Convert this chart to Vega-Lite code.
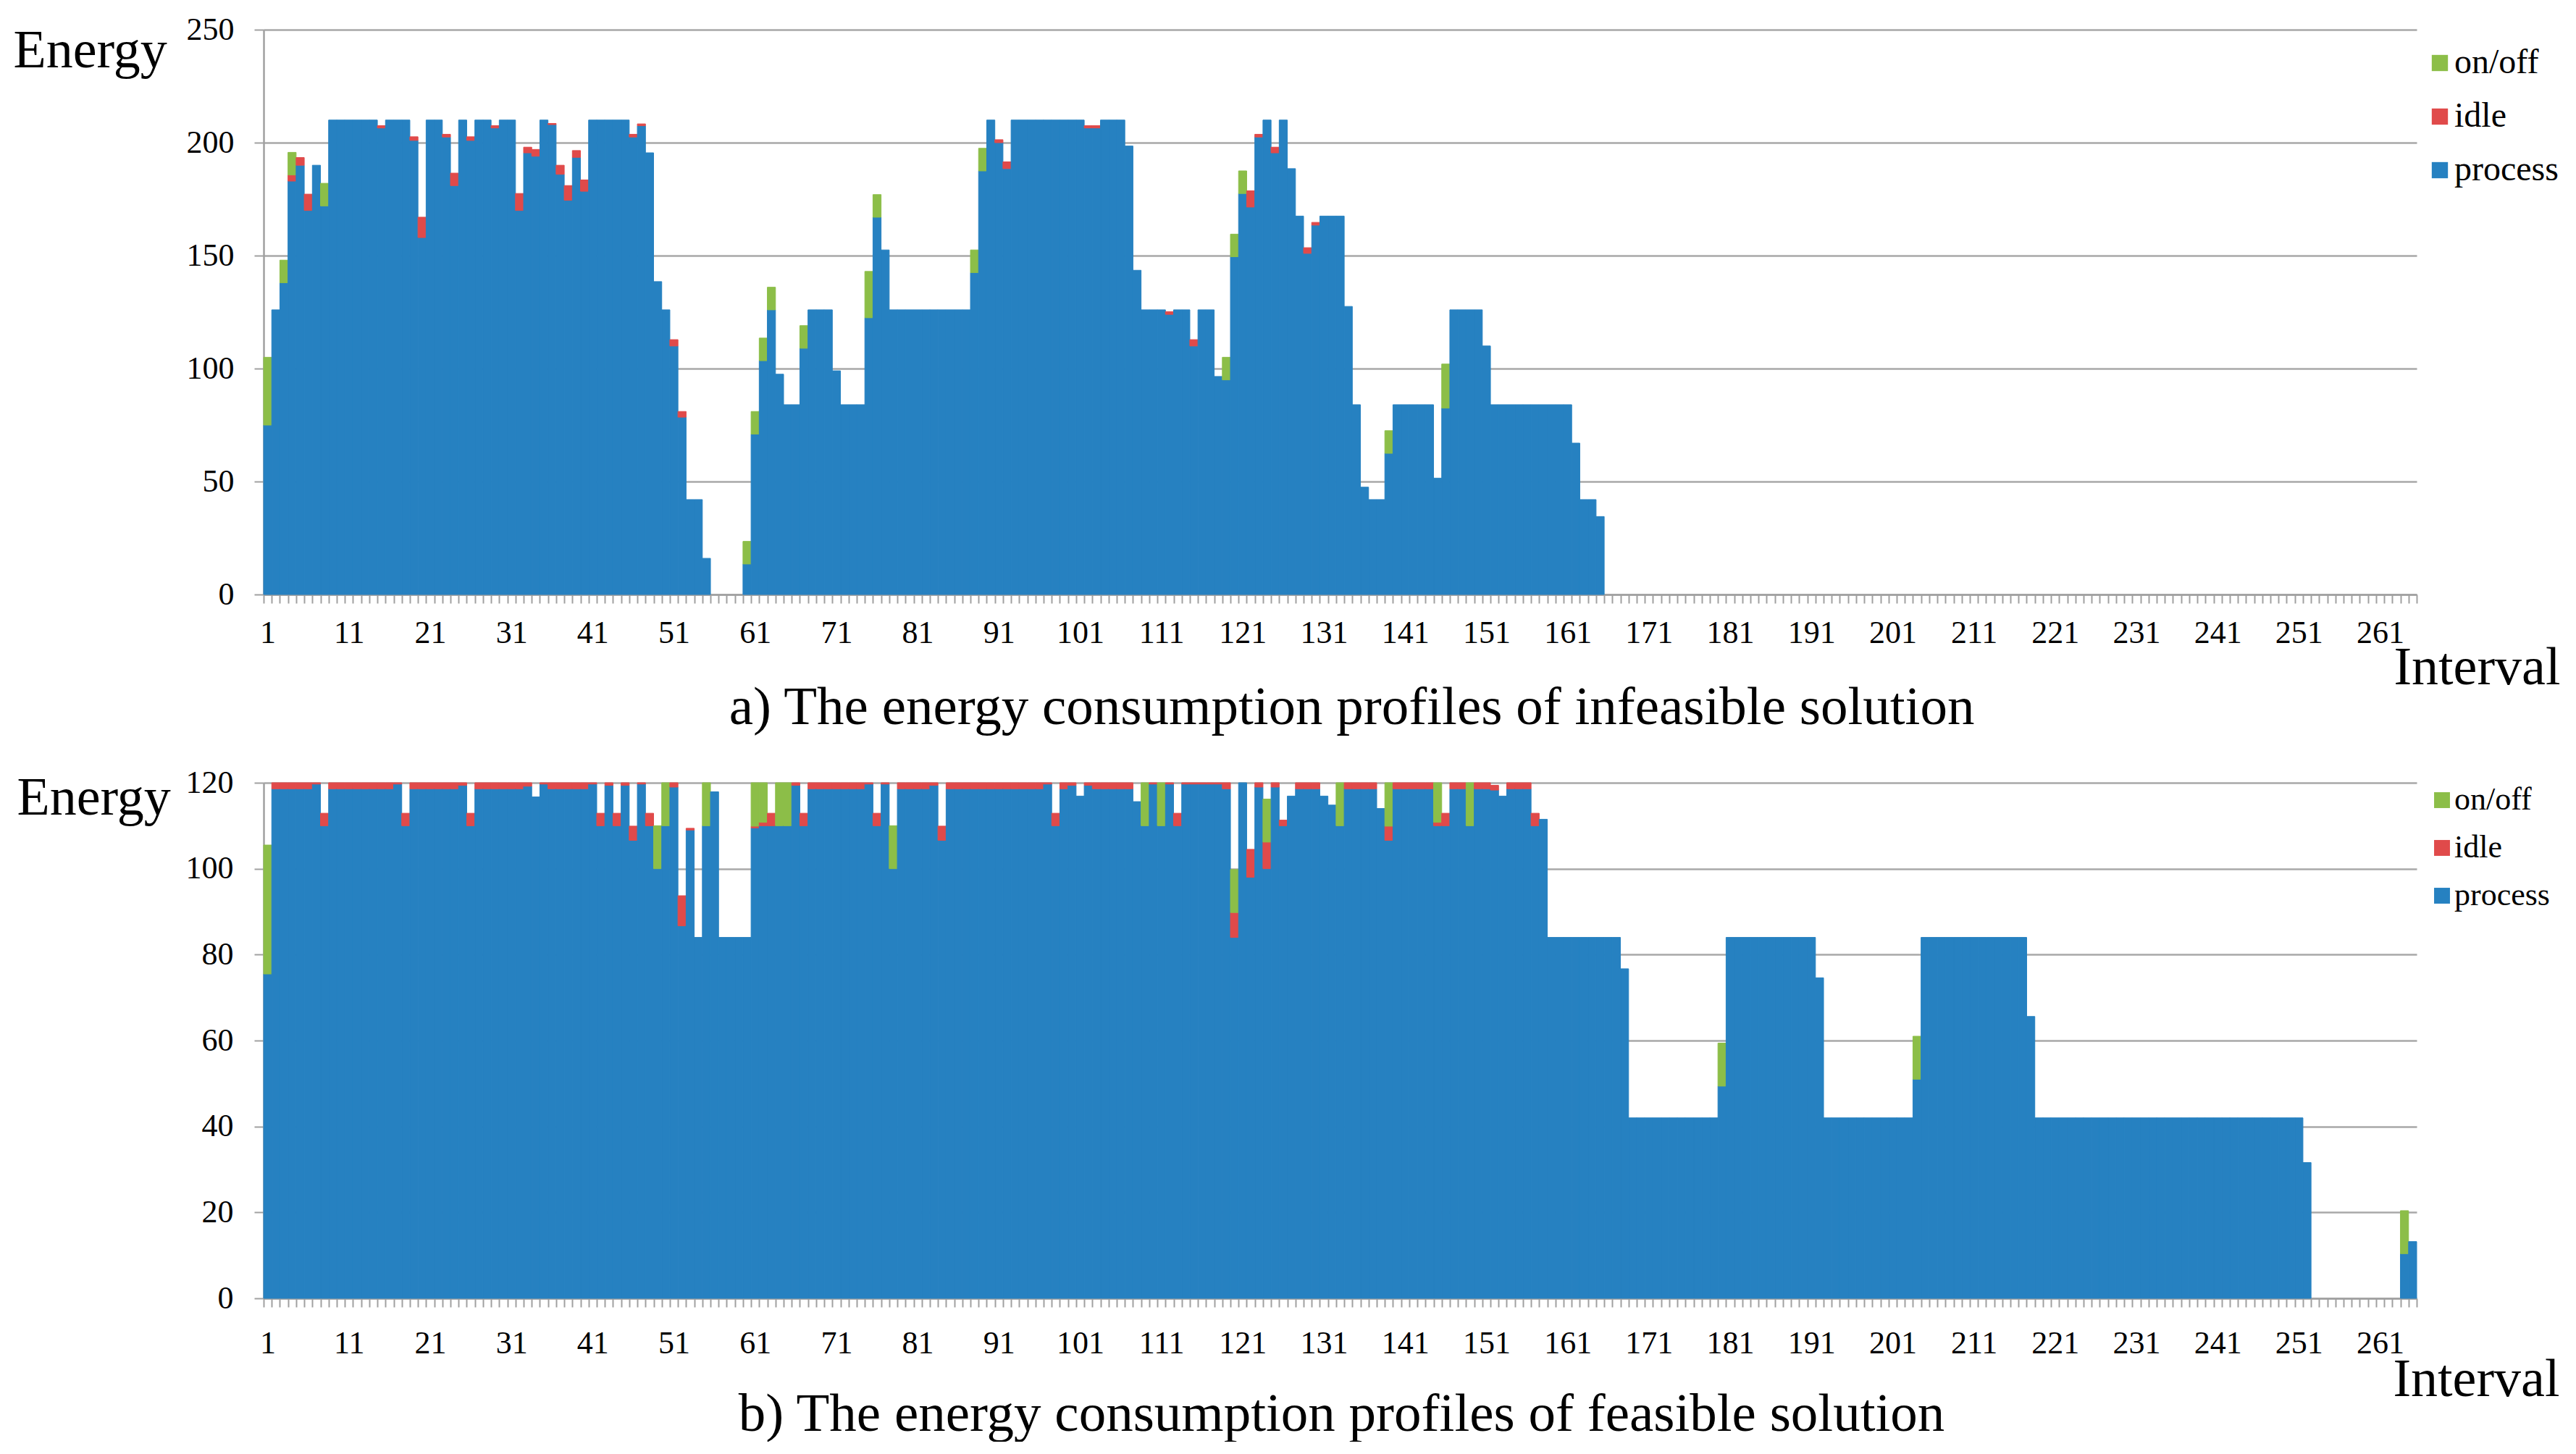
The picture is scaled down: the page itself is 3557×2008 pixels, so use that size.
{
"$schema":"https://vega.github.io/schema/vega-lite/v6.json",
"padding":{"left":18,"top":19,"right":0,"bottom":0},
"bounds":"flush",
"spacing":260,
"config":{"view":{"stroke":null},"font":"Liberation Serif","axis":{"labelFont":"Liberation Serif","titleFont":"Liberation Serif","labelColor":"black","titleColor":"black","titleFontWeight":"normal","domainColor":"#a0a0a0","tickColor":"#a0a0a0","gridColor":"#a8a8a8"}},
"resolve":{"scale":{"x":"independent","y":"independent","color":"independent","stroke":"independent"},"legend":{"color":"independent"},"axis":{"x":"independent","y":"independent"}},
"datasets":{
"a":[
{"i":1,"process":75,"idle":0,"On_off":30},{"i":2,"process":126,"idle":0,"On_off":0},{"i":3,"process":138,"idle":0,"On_off":10},{"i":4,"process":183,"idle":2.7,"On_off":10},{"i":5,"process":190,"idle":3.4,"On_off":0},{"i":6,"process":170,"idle":7.2,"On_off":0},{"i":7,"process":190,"idle":0,"On_off":0},{"i":8,"process":172,"idle":0,"On_off":10},{"i":9,"process":210,"idle":0,"On_off":0},{"i":10,"process":210,"idle":0,"On_off":0},
{"i":11,"process":210,"idle":0,"On_off":0},{"i":12,"process":210,"idle":0,"On_off":0},{"i":13,"process":210,"idle":0,"On_off":0},{"i":14,"process":210,"idle":0,"On_off":0},{"i":15,"process":206.5,"idle":1,"On_off":0},{"i":16,"process":210,"idle":0,"On_off":0},{"i":17,"process":210,"idle":0,"On_off":0},{"i":18,"process":210,"idle":0,"On_off":0},{"i":19,"process":201,"idle":1.6,"On_off":0},{"i":20,"process":158,"idle":9,"On_off":0},
{"i":21,"process":210,"idle":0,"On_off":0},{"i":22,"process":210,"idle":0,"On_off":0},{"i":23,"process":202.5,"idle":1.2,"On_off":0},{"i":24,"process":181,"idle":5.5,"On_off":0},{"i":25,"process":210,"idle":0,"On_off":0},{"i":26,"process":201,"idle":1.6,"On_off":0},{"i":27,"process":210,"idle":0,"On_off":0},{"i":28,"process":210,"idle":0,"On_off":0},{"i":29,"process":206.5,"idle":1,"On_off":0},{"i":30,"process":210,"idle":0,"On_off":0},
{"i":31,"process":210,"idle":0,"On_off":0},{"i":32,"process":170,"idle":7.5,"On_off":0},{"i":33,"process":195.5,"idle":2.5,"On_off":0},{"i":34,"process":194,"idle":3,"On_off":0},{"i":35,"process":210,"idle":0,"On_off":0},{"i":36,"process":208,"idle":0.5,"On_off":0},{"i":37,"process":186,"idle":4,"On_off":0},{"i":38,"process":174.5,"idle":6.5,"On_off":0},{"i":39,"process":193.5,"idle":3,"On_off":0},{"i":40,"process":178.5,"idle":5,"On_off":0},
{"i":41,"process":210,"idle":0,"On_off":0},{"i":42,"process":210,"idle":0,"On_off":0},{"i":43,"process":210,"idle":0,"On_off":0},{"i":44,"process":210,"idle":0,"On_off":0},{"i":45,"process":210,"idle":0,"On_off":0},{"i":46,"process":202.5,"idle":1.2,"On_off":0},{"i":47,"process":207.5,"idle":0.8,"On_off":0},{"i":48,"process":195.5,"idle":0,"On_off":0},{"i":49,"process":138.5,"idle":0,"On_off":0},{"i":50,"process":126,"idle":0,"On_off":0},
{"i":51,"process":110,"idle":2.8,"On_off":0},{"i":52,"process":78.5,"idle":2.5,"On_off":0},{"i":53,"process":42,"idle":0,"On_off":0},{"i":54,"process":42,"idle":0,"On_off":0},{"i":55,"process":16,"idle":0,"On_off":0},
{"i":60,"process":13.5,"idle":0,"On_off":10},{"i":61,"process":71,"idle":0,"On_off":10},{"i":62,"process":103.5,"idle":0,"On_off":10},{"i":63,"process":126,"idle":0,"On_off":10},{"i":64,"process":97.5,"idle":0,"On_off":0},{"i":65,"process":84,"idle":0,"On_off":0},{"i":66,"process":84,"idle":0,"On_off":0},{"i":67,"process":109,"idle":0,"On_off":10},{"i":68,"process":126,"idle":0,"On_off":0},{"i":69,"process":126,"idle":0,"On_off":0},{"i":70,"process":126,"idle":0,"On_off":0},
{"i":71,"process":99,"idle":0,"On_off":0},{"i":72,"process":84,"idle":0,"On_off":0},{"i":73,"process":84,"idle":0,"On_off":0},{"i":74,"process":84,"idle":0,"On_off":0},{"i":75,"process":122.5,"idle":0,"On_off":20.5},{"i":76,"process":167,"idle":0,"On_off":10},{"i":77,"process":152.5,"idle":0,"On_off":0},{"i":78,"process":126,"idle":0,"On_off":0},{"i":79,"process":126,"idle":0,"On_off":0},{"i":80,"process":126,"idle":0,"On_off":0},
{"i":81,"process":126,"idle":0,"On_off":0},{"i":82,"process":126,"idle":0,"On_off":0},{"i":83,"process":126,"idle":0,"On_off":0},{"i":84,"process":126,"idle":0,"On_off":0},{"i":85,"process":126,"idle":0,"On_off":0},{"i":86,"process":126,"idle":0,"On_off":0},{"i":87,"process":126,"idle":0,"On_off":0},{"i":88,"process":142.5,"idle":0,"On_off":10},{"i":89,"process":187.5,"idle":0,"On_off":10},{"i":90,"process":210,"idle":0,"On_off":0},
{"i":91,"process":200,"idle":1.3,"On_off":0},{"i":92,"process":188.5,"idle":3,"On_off":0},{"i":93,"process":210,"idle":0,"On_off":0},{"i":94,"process":210,"idle":0,"On_off":0},{"i":95,"process":210,"idle":0,"On_off":0},{"i":96,"process":210,"idle":0,"On_off":0},{"i":97,"process":210,"idle":0,"On_off":0},{"i":98,"process":210,"idle":0,"On_off":0},{"i":99,"process":210,"idle":0,"On_off":0},{"i":100,"process":210,"idle":0,"On_off":0},
{"i":101,"process":210,"idle":0,"On_off":0},{"i":102,"process":206.5,"idle":1,"On_off":0},{"i":103,"process":206.5,"idle":1,"On_off":0},{"i":104,"process":210,"idle":0,"On_off":0},{"i":105,"process":210,"idle":0,"On_off":0},{"i":106,"process":210,"idle":0,"On_off":0},{"i":107,"process":198.5,"idle":0,"On_off":0},{"i":108,"process":143.5,"idle":0,"On_off":0},{"i":109,"process":126,"idle":0,"On_off":0},{"i":110,"process":126,"idle":0,"On_off":0},
{"i":111,"process":126,"idle":0,"On_off":0},{"i":112,"process":124,"idle":1.2,"On_off":0},{"i":113,"process":126,"idle":0,"On_off":0},{"i":114,"process":126,"idle":0,"On_off":0},{"i":115,"process":110,"idle":2.8,"On_off":0},{"i":116,"process":126,"idle":0,"On_off":0},{"i":117,"process":126,"idle":0,"On_off":0},{"i":118,"process":96.5,"idle":0,"On_off":0},{"i":119,"process":95,"idle":0,"On_off":10},{"i":120,"process":149.5,"idle":0,"On_off":10},
{"i":121,"process":177.5,"idle":0,"On_off":10},{"i":122,"process":171.5,"idle":7.2,"On_off":0},{"i":123,"process":202.5,"idle":1.2,"On_off":0},{"i":124,"process":210,"idle":0,"On_off":0},{"i":125,"process":195.5,"idle":2.5,"On_off":0},{"i":126,"process":210,"idle":0,"On_off":0},{"i":127,"process":188.5,"idle":0,"On_off":0},{"i":128,"process":167.5,"idle":0,"On_off":0},{"i":129,"process":151,"idle":2.5,"On_off":0},{"i":130,"process":163.5,"idle":1.2,"On_off":0},
{"i":131,"process":167.5,"idle":0,"On_off":0},{"i":132,"process":167.5,"idle":0,"On_off":0},{"i":133,"process":167.5,"idle":0,"On_off":0},{"i":134,"process":127.5,"idle":0,"On_off":0},{"i":135,"process":84,"idle":0,"On_off":0},{"i":136,"process":47.5,"idle":0,"On_off":0},{"i":137,"process":42,"idle":0,"On_off":0},{"i":138,"process":42,"idle":0,"On_off":0},{"i":139,"process":62.5,"idle":0,"On_off":10},{"i":140,"process":84,"idle":0,"On_off":0},
{"i":141,"process":84,"idle":0,"On_off":0},{"i":142,"process":84,"idle":0,"On_off":0},{"i":143,"process":84,"idle":0,"On_off":0},{"i":144,"process":84,"idle":0,"On_off":0},{"i":145,"process":51.5,"idle":0,"On_off":0},{"i":146,"process":82.5,"idle":0,"On_off":19.5},{"i":147,"process":126,"idle":0,"On_off":0},{"i":148,"process":126,"idle":0,"On_off":0},{"i":149,"process":126,"idle":0,"On_off":0},{"i":150,"process":126,"idle":0,"On_off":0},
{"i":151,"process":110,"idle":0,"On_off":0},{"i":152,"process":84,"idle":0,"On_off":0},{"i":153,"process":84,"idle":0,"On_off":0},{"i":154,"process":84,"idle":0,"On_off":0},{"i":155,"process":84,"idle":0,"On_off":0},{"i":156,"process":84,"idle":0,"On_off":0},{"i":157,"process":84,"idle":0,"On_off":0},{"i":158,"process":84,"idle":0,"On_off":0},{"i":159,"process":84,"idle":0,"On_off":0},{"i":160,"process":84,"idle":0,"On_off":0},
{"i":161,"process":84,"idle":0,"On_off":0},{"i":162,"process":67,"idle":0,"On_off":0},{"i":163,"process":42,"idle":0,"On_off":0},{"i":164,"process":42,"idle":0,"On_off":0},{"i":165,"process":34.5,"idle":0,"On_off":0}
],
"b":[
{"i":1,"process":75.5,"idle":0,"On_off":30},{"i":2,"process":118.6,"idle":1.4,"On_off":0},{"i":3,"process":118.6,"idle":1.4,"On_off":0},{"i":4,"process":118.6,"idle":1.4,"On_off":0},{"i":5,"process":118.6,"idle":1.4,"On_off":0},{"i":6,"process":118.6,"idle":1.4,"On_off":0},{"i":7,"process":119.7,"idle":0.3,"On_off":0},{"i":8,"process":110,"idle":2.9,"On_off":0},{"i":9,"process":118.6,"idle":1.4,"On_off":0},{"i":10,"process":118.6,"idle":1.4,"On_off":0},
{"i":11,"process":118.6,"idle":1.4,"On_off":0},{"i":12,"process":118.6,"idle":1.4,"On_off":0},{"i":13,"process":118.6,"idle":1.4,"On_off":0},{"i":14,"process":118.6,"idle":1.4,"On_off":0},{"i":15,"process":118.6,"idle":1.4,"On_off":0},{"i":16,"process":118.6,"idle":1.4,"On_off":0},{"i":17,"process":119.7,"idle":0.3,"On_off":0},{"i":18,"process":110,"idle":2.9,"On_off":0},{"i":19,"process":118.6,"idle":1.4,"On_off":0},{"i":20,"process":118.6,"idle":1.4,"On_off":0},
{"i":21,"process":118.6,"idle":1.4,"On_off":0},{"i":22,"process":118.6,"idle":1.4,"On_off":0},{"i":23,"process":118.6,"idle":1.4,"On_off":0},{"i":24,"process":118.6,"idle":1.4,"On_off":0},{"i":25,"process":119.4,"idle":0.6,"On_off":0},{"i":26,"process":110,"idle":2.9,"On_off":0},{"i":27,"process":118.6,"idle":1.4,"On_off":0},{"i":28,"process":118.6,"idle":1.4,"On_off":0},{"i":29,"process":118.6,"idle":1.4,"On_off":0},{"i":30,"process":118.6,"idle":1.4,"On_off":0},
{"i":31,"process":118.6,"idle":1.4,"On_off":0},{"i":32,"process":118.6,"idle":1.4,"On_off":0},{"i":33,"process":119.2,"idle":0.8,"On_off":0},{"i":34,"process":116.7,"idle":0,"On_off":0},{"i":35,"process":119.7,"idle":0.3,"On_off":0},{"i":36,"process":118.6,"idle":1.4,"On_off":0},{"i":37,"process":118.6,"idle":1.4,"On_off":0},{"i":38,"process":118.6,"idle":1.4,"On_off":0},{"i":39,"process":118.6,"idle":1.4,"On_off":0},{"i":40,"process":118.6,"idle":1.4,"On_off":0},
{"i":41,"process":119.7,"idle":0.3,"On_off":0},{"i":42,"process":110,"idle":2.9,"On_off":0},{"i":43,"process":119.4,"idle":0.6,"On_off":0},{"i":44,"process":110,"idle":2.9,"On_off":0},{"i":45,"process":119.4,"idle":0.6,"On_off":0},{"i":46,"process":106.6,"idle":3.3,"On_off":0},{"i":47,"process":119.7,"idle":0.3,"On_off":0},{"i":48,"process":110,"idle":2.9,"On_off":0},{"i":49,"process":100,"idle":0,"On_off":10},{"i":50,"process":110,"idle":0,"On_off":10},
{"i":51,"process":119,"idle":1,"On_off":0},{"i":52,"process":86.7,"idle":7,"On_off":0},{"i":53,"process":109,"idle":0.4,"On_off":0},{"i":54,"process":84,"idle":0,"On_off":0},{"i":55,"process":110,"idle":0,"On_off":10},{"i":56,"process":117.9,"idle":0,"On_off":0},{"i":57,"process":84,"idle":0,"On_off":0},{"i":58,"process":84,"idle":0,"On_off":0},{"i":59,"process":84,"idle":0,"On_off":0},{"i":60,"process":84,"idle":0,"On_off":0},
{"i":61,"process":109.5,"idle":0.4,"On_off":10.1},{"i":62,"process":110,"idle":0.8,"On_off":9.2},{"i":63,"process":110,"idle":2.9,"On_off":0},{"i":64,"process":110,"idle":0,"On_off":10},{"i":65,"process":110,"idle":0,"On_off":10},{"i":66,"process":119.4,"idle":0.6,"On_off":0},{"i":67,"process":110,"idle":2.9,"On_off":0},{"i":68,"process":118.6,"idle":1.4,"On_off":0},{"i":69,"process":118.6,"idle":1.4,"On_off":0},{"i":70,"process":118.6,"idle":1.4,"On_off":0},
{"i":71,"process":118.6,"idle":1.4,"On_off":0},{"i":72,"process":118.6,"idle":1.4,"On_off":0},{"i":73,"process":118.6,"idle":1.4,"On_off":0},{"i":74,"process":118.6,"idle":1.4,"On_off":0},{"i":75,"process":119.7,"idle":0.3,"On_off":0},{"i":76,"process":110,"idle":2.9,"On_off":0},{"i":77,"process":119.7,"idle":0.3,"On_off":0},{"i":78,"process":100,"idle":0,"On_off":10},{"i":79,"process":118.6,"idle":1.4,"On_off":0},{"i":80,"process":118.6,"idle":1.4,"On_off":0},
{"i":81,"process":118.6,"idle":1.4,"On_off":0},{"i":82,"process":118.6,"idle":1.4,"On_off":0},{"i":83,"process":119.4,"idle":0.6,"On_off":0},{"i":84,"process":106.6,"idle":3.3,"On_off":0},{"i":85,"process":118.6,"idle":1.4,"On_off":0},{"i":86,"process":118.6,"idle":1.4,"On_off":0},{"i":87,"process":118.6,"idle":1.4,"On_off":0},{"i":88,"process":118.6,"idle":1.4,"On_off":0},{"i":89,"process":118.6,"idle":1.4,"On_off":0},{"i":90,"process":118.6,"idle":1.4,"On_off":0},
{"i":91,"process":118.6,"idle":1.4,"On_off":0},{"i":92,"process":118.6,"idle":1.4,"On_off":0},{"i":93,"process":118.6,"idle":1.4,"On_off":0},{"i":94,"process":118.6,"idle":1.4,"On_off":0},{"i":95,"process":118.6,"idle":1.4,"On_off":0},{"i":96,"process":118.6,"idle":1.4,"On_off":0},{"i":97,"process":119.7,"idle":0.3,"On_off":0},{"i":98,"process":110,"idle":2.9,"On_off":0},{"i":99,"process":118.6,"idle":1.4,"On_off":0},{"i":100,"process":119.4,"idle":0.6,"On_off":0},
{"i":101,"process":116.9,"idle":0,"On_off":0},{"i":102,"process":119.4,"idle":0.6,"On_off":0},{"i":103,"process":118.6,"idle":1.4,"On_off":0},{"i":104,"process":118.6,"idle":1.4,"On_off":0},{"i":105,"process":118.6,"idle":1.4,"On_off":0},{"i":106,"process":118.6,"idle":1.4,"On_off":0},{"i":107,"process":118.6,"idle":1.4,"On_off":0},{"i":108,"process":115.6,"idle":0,"On_off":0},{"i":109,"process":110,"idle":0,"On_off":10},{"i":110,"process":119.7,"idle":0.3,"On_off":0},
{"i":111,"process":110,"idle":0,"On_off":10},{"i":112,"process":119.7,"idle":0.3,"On_off":0},{"i":113,"process":110,"idle":2.9,"On_off":0},{"i":114,"process":119.7,"idle":0.3,"On_off":0},{"i":115,"process":119.7,"idle":0.3,"On_off":0},{"i":116,"process":119.7,"idle":0.3,"On_off":0},{"i":117,"process":119.7,"idle":0.3,"On_off":0},{"i":118,"process":119.7,"idle":0.3,"On_off":0},{"i":119,"process":118.6,"idle":1.4,"On_off":0},{"i":120,"process":84,"idle":5.8,"On_off":10},
{"i":121,"process":120,"idle":0,"On_off":0},{"i":122,"process":98,"idle":6.5,"On_off":0},{"i":123,"process":119,"idle":1,"On_off":0},{"i":124,"process":100,"idle":6.2,"On_off":10},{"i":125,"process":119,"idle":1,"On_off":0},{"i":126,"process":110,"idle":1.3,"On_off":0},{"i":127,"process":116.9,"idle":0,"On_off":0},{"i":128,"process":118.6,"idle":1.4,"On_off":0},{"i":129,"process":118.6,"idle":1.4,"On_off":0},{"i":130,"process":118.6,"idle":1.4,"On_off":0},
{"i":131,"process":116.9,"idle":0,"On_off":0},{"i":132,"process":114.8,"idle":0,"On_off":0},{"i":133,"process":110,"idle":0,"On_off":10},{"i":134,"process":118.6,"idle":1.4,"On_off":0},{"i":135,"process":118.6,"idle":1.4,"On_off":0},{"i":136,"process":118.6,"idle":1.4,"On_off":0},{"i":137,"process":118.6,"idle":1.4,"On_off":0},{"i":138,"process":114,"idle":0,"On_off":0},{"i":139,"process":106.6,"idle":3.3,"On_off":10.1},{"i":140,"process":118.6,"idle":1.4,"On_off":0},
{"i":141,"process":118.6,"idle":1.4,"On_off":0},{"i":142,"process":118.6,"idle":1.4,"On_off":0},{"i":143,"process":118.6,"idle":1.4,"On_off":0},{"i":144,"process":118.6,"idle":1.4,"On_off":0},{"i":145,"process":110,"idle":0.8,"On_off":9.2},{"i":146,"process":110,"idle":2.9,"On_off":0},{"i":147,"process":118.6,"idle":1.4,"On_off":0},{"i":148,"process":118.6,"idle":1.4,"On_off":0},{"i":149,"process":110,"idle":0,"On_off":10},{"i":150,"process":118.6,"idle":1.4,"On_off":0},
{"i":151,"process":118.6,"idle":1.4,"On_off":0},{"i":152,"process":118.3,"idle":1.1,"On_off":0},{"i":153,"process":116.9,"idle":0,"On_off":0},{"i":154,"process":118.6,"idle":1.4,"On_off":0},{"i":155,"process":118.6,"idle":1.4,"On_off":0},{"i":156,"process":118.6,"idle":1.4,"On_off":0},{"i":157,"process":110,"idle":2.9,"On_off":0},{"i":158,"process":111.5,"idle":0,"On_off":0},{"i":159,"process":84,"idle":0,"On_off":0},{"i":160,"process":84,"idle":0,"On_off":0},
{"i":161,"process":84,"idle":0,"On_off":0},{"i":162,"process":84,"idle":0,"On_off":0},{"i":163,"process":84,"idle":0,"On_off":0},{"i":164,"process":84,"idle":0,"On_off":0},{"i":165,"process":84,"idle":0,"On_off":0},{"i":166,"process":84,"idle":0,"On_off":0},{"i":167,"process":84,"idle":0,"On_off":0},{"i":168,"process":76.7,"idle":0,"On_off":0},{"i":169,"process":42,"idle":0,"On_off":0},{"i":170,"process":42,"idle":0,"On_off":0},
{"i":171,"process":42,"idle":0,"On_off":0},{"i":172,"process":42,"idle":0,"On_off":0},{"i":173,"process":42,"idle":0,"On_off":0},{"i":174,"process":42,"idle":0,"On_off":0},{"i":175,"process":42,"idle":0,"On_off":0},{"i":176,"process":42,"idle":0,"On_off":0},{"i":177,"process":42,"idle":0,"On_off":0},{"i":178,"process":42,"idle":0,"On_off":0},{"i":179,"process":42,"idle":0,"On_off":0},{"i":180,"process":49.4,"idle":0,"On_off":10},
{"i":181,"process":84,"idle":0,"On_off":0},{"i":182,"process":84,"idle":0,"On_off":0},{"i":183,"process":84,"idle":0,"On_off":0},{"i":184,"process":84,"idle":0,"On_off":0},{"i":185,"process":84,"idle":0,"On_off":0},{"i":186,"process":84,"idle":0,"On_off":0},{"i":187,"process":84,"idle":0,"On_off":0},{"i":188,"process":84,"idle":0,"On_off":0},{"i":189,"process":84,"idle":0,"On_off":0},{"i":190,"process":84,"idle":0,"On_off":0},
{"i":191,"process":84,"idle":0,"On_off":0},{"i":192,"process":74.6,"idle":0,"On_off":0},{"i":193,"process":42,"idle":0,"On_off":0},{"i":194,"process":42,"idle":0,"On_off":0},{"i":195,"process":42,"idle":0,"On_off":0},{"i":196,"process":42,"idle":0,"On_off":0},{"i":197,"process":42,"idle":0,"On_off":0},{"i":198,"process":42,"idle":0,"On_off":0},{"i":199,"process":42,"idle":0,"On_off":0},{"i":200,"process":42,"idle":0,"On_off":0},
{"i":201,"process":42,"idle":0,"On_off":0},{"i":202,"process":42,"idle":0,"On_off":0},{"i":203,"process":42,"idle":0,"On_off":0},{"i":204,"process":51,"idle":0,"On_off":10},{"i":205,"process":84,"idle":0,"On_off":0},{"i":206,"process":84,"idle":0,"On_off":0},{"i":207,"process":84,"idle":0,"On_off":0},{"i":208,"process":84,"idle":0,"On_off":0},{"i":209,"process":84,"idle":0,"On_off":0},{"i":210,"process":84,"idle":0,"On_off":0},
{"i":211,"process":84,"idle":0,"On_off":0},{"i":212,"process":84,"idle":0,"On_off":0},{"i":213,"process":84,"idle":0,"On_off":0},{"i":214,"process":84,"idle":0,"On_off":0},{"i":215,"process":84,"idle":0,"On_off":0},{"i":216,"process":84,"idle":0,"On_off":0},{"i":217,"process":84,"idle":0,"On_off":0},{"i":218,"process":65.6,"idle":0,"On_off":0},{"i":219,"process":42,"idle":0,"On_off":0},{"i":220,"process":42,"idle":0,"On_off":0},
{"i":221,"process":42,"idle":0,"On_off":0},{"i":222,"process":42,"idle":0,"On_off":0},{"i":223,"process":42,"idle":0,"On_off":0},{"i":224,"process":42,"idle":0,"On_off":0},{"i":225,"process":42,"idle":0,"On_off":0},{"i":226,"process":42,"idle":0,"On_off":0},{"i":227,"process":42,"idle":0,"On_off":0},{"i":228,"process":42,"idle":0,"On_off":0},{"i":229,"process":42,"idle":0,"On_off":0},{"i":230,"process":42,"idle":0,"On_off":0},
{"i":231,"process":42,"idle":0,"On_off":0},{"i":232,"process":42,"idle":0,"On_off":0},{"i":233,"process":42,"idle":0,"On_off":0},{"i":234,"process":42,"idle":0,"On_off":0},{"i":235,"process":42,"idle":0,"On_off":0},{"i":236,"process":42,"idle":0,"On_off":0},{"i":237,"process":42,"idle":0,"On_off":0},{"i":238,"process":42,"idle":0,"On_off":0},{"i":239,"process":42,"idle":0,"On_off":0},{"i":240,"process":42,"idle":0,"On_off":0},
{"i":241,"process":42,"idle":0,"On_off":0},{"i":242,"process":42,"idle":0,"On_off":0},{"i":243,"process":42,"idle":0,"On_off":0},{"i":244,"process":42,"idle":0,"On_off":0},{"i":245,"process":42,"idle":0,"On_off":0},{"i":246,"process":42,"idle":0,"On_off":0},{"i":247,"process":42,"idle":0,"On_off":0},{"i":248,"process":42,"idle":0,"On_off":0},{"i":249,"process":42,"idle":0,"On_off":0},{"i":250,"process":42,"idle":0,"On_off":0},
{"i":251,"process":42,"idle":0,"On_off":0},{"i":252,"process":31.6,"idle":0,"On_off":0},{"i":264,"process":10.4,"idle":0,"On_off":10},{"i":265,"process":13.2,"idle":0,"On_off":0}
]
},
"vconcat":[
{
"data":{"name":"a"},
"width":2973,"height":780,
"title":{"text":"a) The energy consumption profiles of infeasible solution","orient":"bottom","frame":"group","anchor":"middle","baseline":"middle","offset":18,"dx":16,"fontSize":75,"fontWeight":"normal","font":"Liberation Serif","color":"black"},
"transform":[{"fold":["process","idle","On_off"],"as":["series","energy"]},{"filter":"datum.energy > 0"}],
"mark":{"type":"bar","strokeWidth":1},
"encoding":{
"x":{"field":"i","type":"ordinal","scale":{"domain":[1,2,3,4,5,6,7,8,9,10,11,12,13,14,15,16,17,18,19,20,21,22,23,24,25,26,27,28,29,30,31,32,33,34,35,36,37,38,39,40,41,42,43,44,45,46,47,48,49,50,51,52,53,54,55,56,57,58,59,60,61,62,63,64,65,66,67,68,69,70,71,72,73,74,75,76,77,78,79,80,81,82,83,84,85,86,87,88,89,90,91,92,93,94,95,96,97,98,99,100,101,102,103,104,105,106,107,108,109,110,111,112,113,114,115,116,117,118,119,120,121,122,123,124,125,126,127,128,129,130,131,132,133,134,135,136,137,138,139,140,141,142,143,144,145,146,147,148,149,150,151,152,153,154,155,156,157,158,159,160,161,162,163,164,165,166,167,168,169,170,171,172,173,174,175,176,177,178,179,180,181,182,183,184,185,186,187,188,189,190,191,192,193,194,195,196,197,198,199,200,201,202,203,204,205,206,207,208,209,210,211,212,213,214,215,216,217,218,219,220,221,222,223,224,225,226,227,228,229,230,231,232,233,234,235,236,237,238,239,240,241,242,243,244,245,246,247,248,249,250,251,252,253,254,255,256,257,258,259,260,261,262,263,264,265],"paddingInner":0,"paddingOuter":0},
"axis":{"title":"Interval","titleFontSize":74,"titleX":3171,"titleY":101,"titleAlign":"right","titleBaseline":"middle","titleAnchor":null,"labelExpr":"(datum.value - 1) % 10 === 0 ? datum.label : ''","labelAngle":0,"labelFontSize":44,"labelBaseline":"middle","labelPadding":41,"labelOverlap":false,"tickBand":"extent","tickSize":12,"tickWidth":2,"domainWidth":2.5,"grid":false}},
"y":{"field":"energy","type":"quantitative","stack":"zero","scale":{"domain":[0,250],"nice":false},
"axis":{"title":"Energy","titleAngle":0,"titleX":-346,"titleY":29,"titleAlign":"left","titleBaseline":"middle","titleFontSize":74,"values":[0,50,100,150,200,250],"grid":true,"gridWidth":2.3,"tickSize":13,"tickWidth":2,"domainWidth":2.5,"labelPadding":28,"labelFontSize":44}},
"color":{"field":"series","type":"nominal","scale":{"domain":["On_off","idle","process"],"range":["#8cbe48","#e04a4a","#2681c1"]},
"legend":{"orient":"none","legendX":2981,"legendY":22,"title":null,"symbolType":"square","symbolSize":500,"symbolStrokeWidth":0,"labelFont":"Liberation Serif","labelFontSize":48,"labelColor":"black","labelOffset":-4,"rowPadding":26,"padding":0,"labelExpr":"datum.label === 'On_off' ? 'on/off' : datum.label"}},
"stroke":{"field":"series","type":"nominal","scale":{"domain":["On_off","idle","process"],"range":["#8cbe48","#e04a4a","#2681c1"]},"legend":null},
"order":{"field":"series","sort":"descending"}
}
},
{
"data":{"name":"b"},
"width":2973,"height":712,
"title":{"text":"b) The energy consumption profiles of feasible solution","orient":"bottom","frame":"group","anchor":"middle","baseline":"middle","offset":11,"dx":2,"fontSize":75,"fontWeight":"normal","font":"Liberation Serif","color":"black"},
"transform":[{"fold":["process","idle","On_off"],"as":["series","energy"]},{"filter":"datum.energy > 0"}],
"mark":{"type":"bar","strokeWidth":1},
"encoding":{
"x":{"field":"i","type":"ordinal","scale":{"domain":[1,2,3,4,5,6,7,8,9,10,11,12,13,14,15,16,17,18,19,20,21,22,23,24,25,26,27,28,29,30,31,32,33,34,35,36,37,38,39,40,41,42,43,44,45,46,47,48,49,50,51,52,53,54,55,56,57,58,59,60,61,62,63,64,65,66,67,68,69,70,71,72,73,74,75,76,77,78,79,80,81,82,83,84,85,86,87,88,89,90,91,92,93,94,95,96,97,98,99,100,101,102,103,104,105,106,107,108,109,110,111,112,113,114,115,116,117,118,119,120,121,122,123,124,125,126,127,128,129,130,131,132,133,134,135,136,137,138,139,140,141,142,143,144,145,146,147,148,149,150,151,152,153,154,155,156,157,158,159,160,161,162,163,164,165,166,167,168,169,170,171,172,173,174,175,176,177,178,179,180,181,182,183,184,185,186,187,188,189,190,191,192,193,194,195,196,197,198,199,200,201,202,203,204,205,206,207,208,209,210,211,212,213,214,215,216,217,218,219,220,221,222,223,224,225,226,227,228,229,230,231,232,233,234,235,236,237,238,239,240,241,242,243,244,245,246,247,248,249,250,251,252,253,254,255,256,257,258,259,260,261,262,263,264,265],"paddingInner":0,"paddingOuter":0},
"axis":{"title":"Interval","titleFontSize":74,"titleX":3170,"titleY":112,"titleAlign":"right","titleBaseline":"middle","titleAnchor":null,"labelExpr":"(datum.value - 1) % 10 === 0 ? datum.label : ''","labelAngle":0,"labelFontSize":44,"labelBaseline":"middle","labelPadding":50,"labelOverlap":false,"tickBand":"extent","tickSize":12,"tickWidth":2,"domainWidth":2.5,"grid":false}},
"y":{"field":"energy","type":"quantitative","stack":"zero","scale":{"domain":[0,120],"nice":false},
"axis":{"title":"Energy","titleAngle":0,"titleX":-341,"titleY":21,"titleAlign":"left","titleBaseline":"middle","titleFontSize":74,"values":[0,20,40,60,80,100,120],"grid":true,"gridWidth":2.3,"tickSize":13,"tickWidth":2,"domainWidth":2.5,"labelPadding":29,"labelFontSize":44}},
"color":{"field":"series","type":"nominal","scale":{"domain":["On_off","idle","process"],"range":["#8cbe48","#e04a4a","#2681c1"]},
"legend":{"orient":"none","legendX":2986,"legendY":2,"title":null,"symbolType":"square","symbolSize":480,"symbolStrokeWidth":0,"labelFont":"Liberation Serif","labelFontSize":44,"labelColor":"black","labelOffset":-5,"rowPadding":22,"padding":0,"labelExpr":"datum.label === 'On_off' ? 'on/off' : datum.label"}},
"stroke":{"field":"series","type":"nominal","scale":{"domain":["On_off","idle","process"],"range":["#8cbe48","#e04a4a","#2681c1"]},"legend":null},
"order":{"field":"series","sort":"descending"}
}
}
]
}
